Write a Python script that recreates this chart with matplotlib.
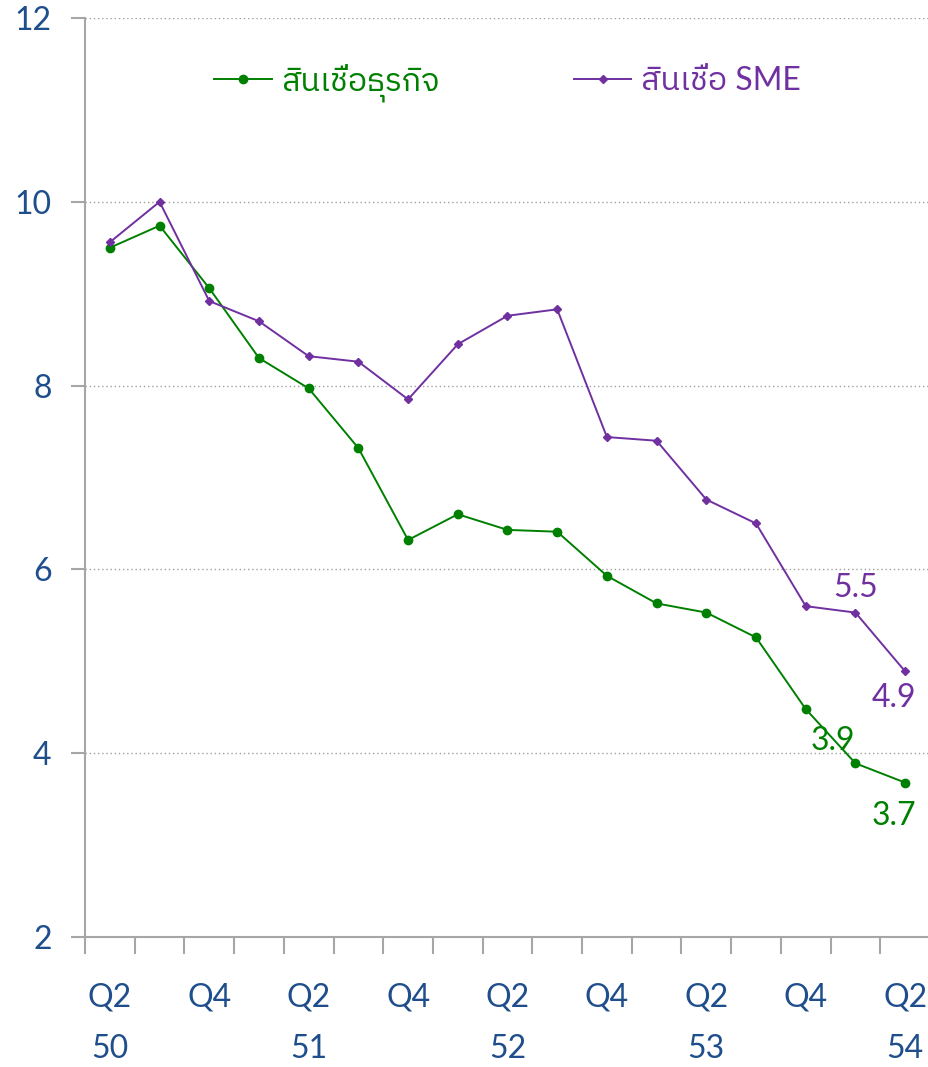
import numpy as np
import matplotlib.pyplot as plt
from matplotlib import font_manager

thai = [f.name for f in font_manager.fontManager.ttflist if 'thai' in f.name.lower() or 'tlwg' in f.name.lower() or f.name in ('Loma', 'Garuda', 'Kinnari', 'Norasi', 'Waree', 'Umpush', 'Sawasdee', 'Laksaman')]
plt.rcParams['font.family'] = ['Lato'] + sorted(set(thai)) + ['DejaVu Sans']

quarters = ['Q2', 'Q3', 'Q4', 'Q1', 'Q2', 'Q3', 'Q4', 'Q1', 'Q2', 'Q3', 'Q4', 'Q1', 'Q2', 'Q3', 'Q4', 'Q1', 'Q2']
years = ['50', '', '', '', '51', '', '', '', '52', '', '', '', '53', '', '', '', '54']
business = [9.50, 9.74, 9.06, 8.30, 7.97, 7.32, 6.32, 6.60, 6.43, 6.41, 5.93, 5.63, 5.53, 5.26, 4.48, 3.89, 3.68]
sme = [9.56, 10.00, 8.92, 8.70, 8.32, 8.26, 7.85, 8.45, 8.76, 8.83, 7.44, 7.40, 6.76, 6.50, 5.60, 5.53, 4.89]

green = '#008000'
purple = '#7030A0'
navy = '#1F4E8C'
grey = '#A6A6A6'

fig = plt.figure(figsize=(9.29, 10.67), dpi=100)
ax = fig.add_axes([85 / 929, 1 - 937 / 1067, 845 / 929, 919 / 1067])

x = np.arange(len(quarters))
ax.plot(x, business, color=green, linewidth=1.4, marker='o', markersize=6,
        label='สินเชื่อธุรกิจ')
ax.plot(x, sme, color=purple, linewidth=1.4, marker='D', markersize=4.5,
        label='สินเชื่อ SME')

ax.set_xlim(-0.5, len(quarters) - 0.5)
ax.set_ylim(2, 12)
ax.set_yticks([2, 4, 6, 8, 10, 12])
ax.yaxis.grid(True, linestyle=(0, (1, 2)), color='#A0A0A0', linewidth=1)
ax.set_axisbelow(True)

ax.set_xticks(x[::2])
ax.set_xticklabels([q + '\n' + y for q, y in zip(quarters[::2], years[::2])],
                   linespacing=1.9)
ax.set_xticks(np.arange(-0.5, len(quarters)), minor=True)
ax.tick_params(axis='x', which='major', length=0, pad=33, labelsize=23, labelcolor=navy)
ax.tick_params(axis='x', which='minor', length=12, width=1.5, color=grey, direction='out')
ax.tick_params(axis='y', length=10, width=1.5, color=grey, pad=14, labelsize=23, labelcolor=navy)

for s in ['top', 'right']:
    ax.spines[s].set_visible(False)
for s in ['left', 'bottom']:
    ax.spines[s].set_color(grey)
    ax.spines[s].set_linewidth(1.5)

lab = dict(textcoords='offset points', ha='center', va='center', fontsize=23)
ax.annotate(f'{sme[-2]:.1f}', (x[-2], sme[-2]), xytext=(0, 18), color=purple, **lab)
ax.annotate(f'{sme[-1]:.1f}', (x[-1], sme[-1]), xytext=(-8, -19), color=purple, **lab)
ax.annotate(f'{business[-2]:.1f}', (x[-2], business[-2]), xytext=(-16, 16), color=green, **lab)
ax.annotate(f'{business[-1]:.1f}', (x[-1], business[-1]), xytext=(-8, -24), color=green, **lab)

ax.legend(loc='upper center', bbox_to_anchor=(0.5, 0.982), ncol=2, frameon=False,
          fontsize=23, labelcolor='linecolor', handlelength=1.8, handletextpad=0.3,
          columnspacing=4.2)

fig.savefig('out.png', dpi=100)
